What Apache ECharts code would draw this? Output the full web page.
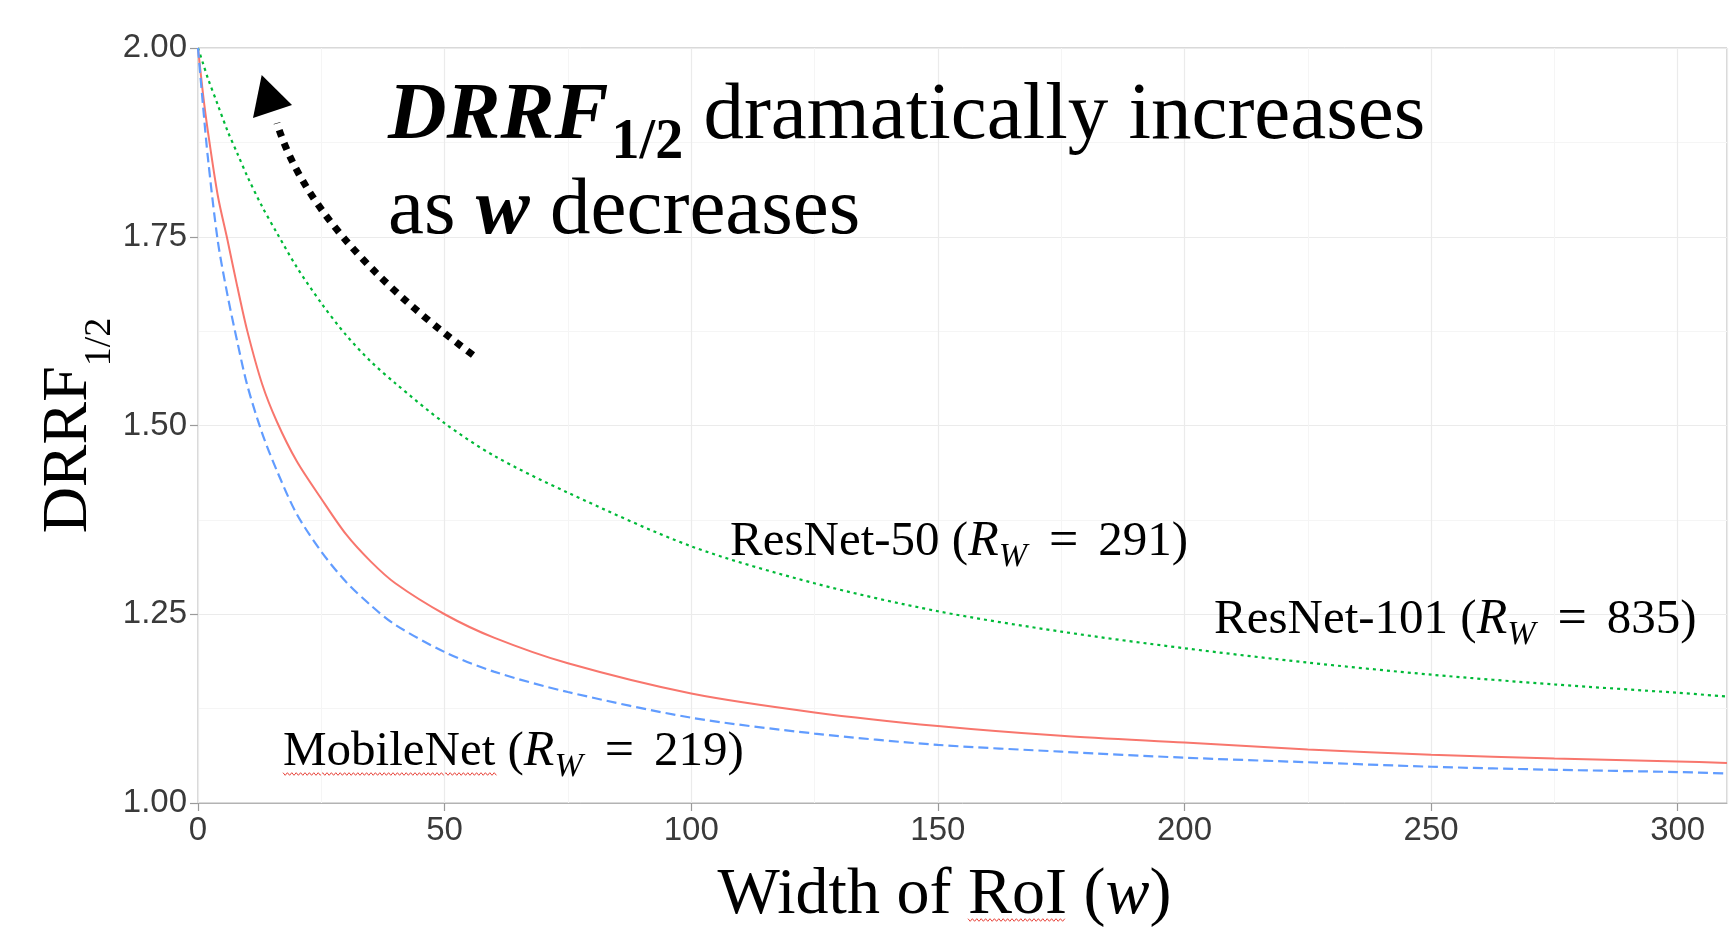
<!DOCTYPE html>
<html><head><meta charset="utf-8">
<script src="https://cdn.jsdelivr.net/npm/echarts@6/dist/echarts.min.js"></script>
<style>html,body{margin:0;padding:0;background:#fff}#c{width:1732px;height:933px}</style>
</head><body><div id="c"></div>
<script>
// ---- data ----
const roiWidths = [0,1,2,4,6,8,10,13,16,20,25,30,35,40,50,60,75,100,125,150,175,200,225,250,275,300,310];
const mobileNet = [2.00,1.925,1.855,1.745,1.672,1.61,1.553,1.49,1.44,1.383,1.333,1.293,1.262,1.236,1.200,1.174,1.147,1.113,1.092,1.077,1.068,1.060,1.054,1.048,1.044,1.041,1.039];
const resNet50  = [2.00,1.94,1.89,1.805,1.745,1.683,1.625,1.555,1.505,1.453,1.403,1.356,1.32,1.291,1.250,1.219,1.185,1.145,1.120,1.102,1.089,1.080,1.071,1.064,1.059,1.055,1.053];
const resNet101 = [2.00,1.98,1.96,1.925,1.89,1.86,1.83,1.79,1.755,1.71,1.662,1.62,1.585,1.556,1.503,1.46,1.411,1.340,1.291,1.254,1.227,1.205,1.186,1.170,1.157,1.146,1.141];
const modelNames = ['MobileNet','ResNet-50','ResNet-101'];
const modelRW = [219, 291, 835];

const SERIF = '"Liberation Serif","Times New Roman",serif';
const SANS = '"Liberation Sans",Arial,sans-serif';

function pairs(arr){ return roiWidths.map((w,i)=>[w, arr[i]]); }

const labelRich = {
  t:{fontFamily:SERIF,fontSize:49,lineHeight:64,color:'#000'},
  e:{fontFamily:SERIF,fontSize:52,lineHeight:64,color:'#000',padding:[0,20,0,22]},
  i:{fontFamily:SERIF,fontStyle:'italic',fontSize:50,lineHeight:64,color:'#000'},
  s:{fontFamily:SERIF,fontStyle:'italic',fontSize:34,lineHeight:34,verticalAlign:'bottom',color:'#000'}
};
function modelLabel(k){ return '{t|'+modelNames[k]+' (}{i|R}{s|W}{e|=}{t|'+modelRW[k]+')}'; }

function squiggle(x0,x1,y){
  const pts=[]; let up=true;
  for(let x=x0;x<=x1;x+=2.2){ pts.push([x, y+(up?-1.3:1.3)]); up=!up; }
  return {type:'polyline',shape:{points:pts},style:{stroke:'#E8453C',lineWidth:1,fill:null},silent:true};
}

const chart = echarts.init(document.getElementById('c'), null, {renderer:'canvas'});
chart.setOption({
  backgroundColor:'#ffffff',
  animation:false,
  grid:{left:198,right:5,top:48,bottom:130,show:true,borderColor:'#B3B3B3',borderWidth:1,backgroundColor:'#fff',
        containLabel:false,outerBoundsMode:'none'},
  xAxis:[{
    type:'value',min:0,max:310,interval:50,z:3,
    axisLine:{show:true,lineStyle:{color:'#B3B3B3',width:1}},
    axisTick:{show:true,length:8,lineStyle:{color:'#9a9a9a',width:1.2}},
    axisLabel:{showMaxLabel:false,fontFamily:SANS,fontSize:33,color:'#3a3a3a',margin:11},
    splitLine:{show:true,lineStyle:{color:'#EBEBEB',width:1.2}},
    name:'{n|Width of RoI (}{i|w}{n|)}',nameLocation:'middle',nameGap:58,nameMoveOverlap:false,
    nameTextStyle:{padding:[0,36,0,0],rich:{
      n:{fontFamily:SERIF,fontSize:66,lineHeight:70,color:'#000'},
      i:{fontFamily:SERIF,fontStyle:'italic',fontSize:66,lineHeight:70,color:'#000'}}}
  },{
    type:'value',min:0,max:310,interval:25,z:1,position:'bottom',
    axisLine:{show:false},axisTick:{show:false},axisLabel:{show:false},
    splitLine:{show:true,lineStyle:{color:'#F5F5F5',width:1}}
  }],
  yAxis:{
    type:'value',min:1,max:2,interval:0.25,
    axisLine:{show:true,lineStyle:{color:'#B3B3B3',width:1}},
    axisTick:{show:true,length:8,lineStyle:{color:'#9a9a9a',width:1.2}},
    axisLabel:{fontFamily:SANS,fontSize:33,color:'#3a3a3a',margin:11,formatter:v=>v.toFixed(2)},
    splitLine:{show:true,lineStyle:{color:'#EBEBEB',width:1.2}},
    minorTick:{show:false,splitNumber:2},
    minorSplitLine:{show:true,lineStyle:{color:'#F5F5F5',width:1}},
    name:'{a|DRRF}{b|1/2}',nameLocation:'middle',nameRotate:90,nameGap:79,nameMoveOverlap:false,
    nameTextStyle:{rich:{
      a:{fontFamily:SERIF,fontSize:64,lineHeight:100,color:'#000'},
      b:{fontFamily:SERIF,fontSize:38,lineHeight:38,verticalAlign:'bottom',color:'#000'}}}
  },
  series:[
    {name:modelNames[2],type:'line',data:pairs(resNet101),showSymbol:false,smooth:0.3,
     lineStyle:{color:'#00BA38',width:2.2,type:[3,4]},z:3},
    {name:modelNames[1],type:'line',data:pairs(resNet50),showSymbol:false,smooth:0.3,
     lineStyle:{color:'#F8766D',width:2},z:3},
    {name:modelNames[0],type:'line',data:pairs(mobileNet),showSymbol:false,smooth:0.3,
     lineStyle:{color:'#619CFF',width:2.2,type:[10,5]},z:3}
  ],
  graphic:[
    // curve labels
    {type:'text',x:1214,y:588,z:10,style:{text:modelLabel(2),rich:labelRich,align:'left',verticalAlign:'top'}},
    {type:'text',x:730,y:510,z:10,style:{text:modelLabel(1),rich:labelRich,align:'left',verticalAlign:'top'}},
    {type:'text',x:283,y:720,z:10,style:{text:modelLabel(0),rich:labelRich,align:'left',verticalAlign:'top'}},
    squiggle(283,497,774),
    squiggle(968,1067,920),
    // annotation text
    {type:'text',x:388,y:62,z:10,style:{
      text:'{D|DRRF}{S|1/2}{n| dramatically increases}',align:'left',verticalAlign:'top',
      rich:{
        D:{fontFamily:SERIF,fontWeight:'bold',fontStyle:'italic',fontSize:81,lineHeight:110,color:'#000'},
        S:{fontFamily:SERIF,fontWeight:'bold',fontSize:56,lineHeight:40,verticalAlign:'bottom',color:'#000',padding:[0,0,0,3]},
        n:{fontFamily:SERIF,fontSize:81,lineHeight:110,color:'#000'}}}},
    {type:'text',x:388,y:157,z:10,style:{
      text:'{n|as }{w|w}{n| decreases}',align:'left',verticalAlign:'top',
      rich:{
        w:{fontFamily:SERIF,fontWeight:'bold',fontStyle:'italic',fontSize:81,lineHeight:110,color:'#000'},
        n:{fontFamily:SERIF,fontSize:81,lineHeight:110,color:'#000'}}}},
    // dotted arrow
    {type:'bezierCurve',z:10,shape:{x1:473,y1:355,cpx1:311,cpy1:235,x2:277,y2:123},
     style:{stroke:'#000',lineWidth:7,lineDash:[7,7],fill:null,lineCap:'butt'}},
    {type:'polygon',z:10,shape:{points:[[261.7,75],[253,118],[292,105]]},style:{fill:'#000'}}
  ]
});
</script>
</body></html>
